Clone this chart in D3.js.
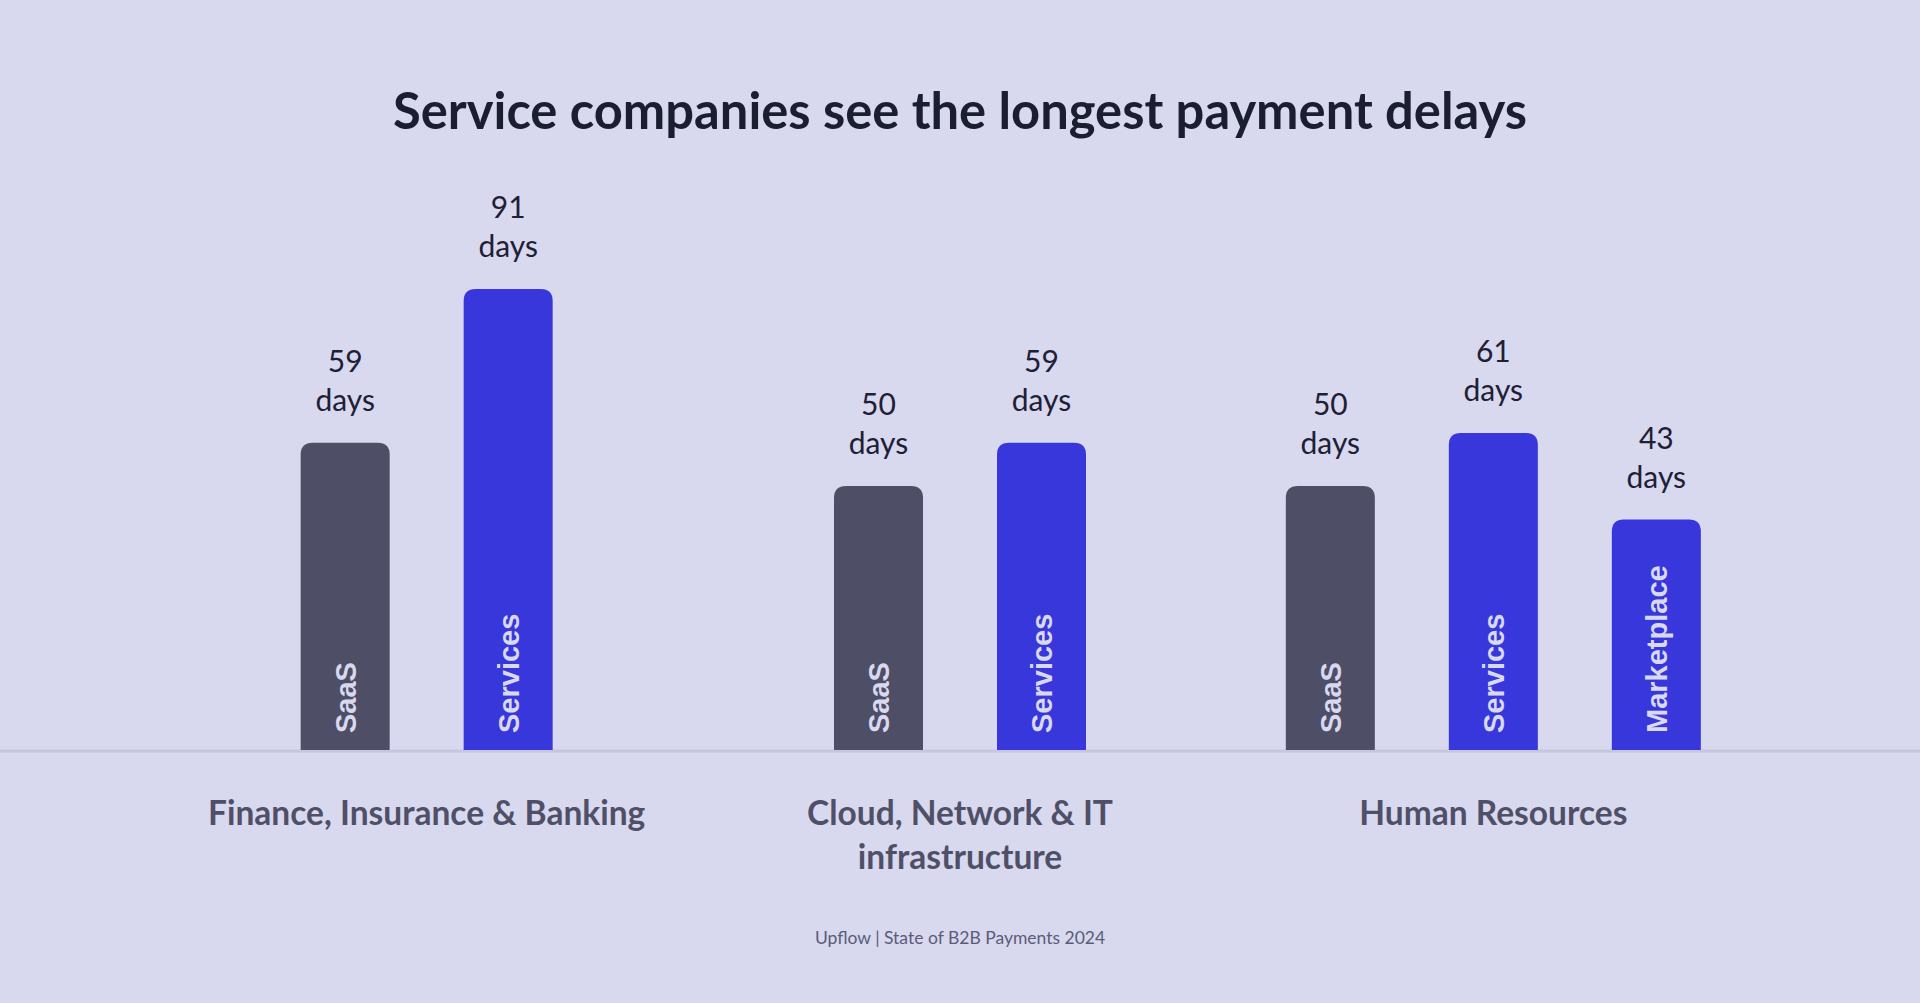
<!DOCTYPE html>
<html>
<head>
<meta charset="utf-8">
<script src="https://cdn.jsdelivr.net/npm/d3@7"></script>
<style>
  html, body { margin: 0; padding: 0; background: #d8d8ef; }
  svg { display: block; }
</style>
</head>
<body>
<div id="chart"></div>
<script>
// chart data
var categories = ["Finance, Insurance & Banking", "Cloud, Network & IT infrastructure", "Human Resources"];
var seriesNames = ["SaaS", "Services", "Marketplace"];
var saasDays = [59, 50, 50];
var servicesDays = [91, 59, 61];
var marketplaceDays = [null, null, 43];
var unitLabel = "days";
var titleText = "Service companies see the longest payment delays";
var sourceText = "Upflow | State of B2B Payments 2024";

var colors = { SaaS: "#4e4e66", Services: "#3737db", Marketplace: "#3737db" };

var svgWidth = 1920;
var svgHeight = 1003;
var baseline = 750;

var svg = d3.select("#chart")
  .append("svg")
  .attr("width", svgWidth)
  .attr("height", svgHeight);

svg.append("rect")
  .attr("width", svgWidth)
  .attr("height", svgHeight)
  .attr("fill", "#d8d8ef");

// rows per category, skipping missing series
var groups = categories.map(function (c, i) {
  var vals = [saasDays[i], servicesDays[i], marketplaceDays[i]];
  var bars = [];
  seriesNames.forEach(function (s, j) {
    if (vals[j] != null) bars.push({ series: s, value: vals[j], category: c });
  });
  return { category: c, bars: bars };
});

var allValues = saasDays.concat(servicesDays, marketplaceDays).filter(function (d) { return d != null; });

var x0 = d3.scaleBand()
  .domain(categories)
  .range([160, 1760]);

var step = 163;

var y = d3.scaleLinear()
  .domain([-5, d3.max(allValues)])
  .range([baseline, 289]);

function topRounded(x, y0, w, h, r) {
  return "M" + x + "," + (y0 + h) +
    "V" + (y0 + r) +
    "Q" + x + "," + y0 + " " + (x + r) + "," + y0 +
    "H" + (x + w - r) +
    "Q" + (x + w) + "," + y0 + " " + (x + w) + "," + (y0 + r) +
    "V" + (y0 + h) + "Z";
}

// title
svg.append("text")
  .attr("x", svgWidth / 2)
  .attr("y", 129)
  .attr("text-anchor", "middle")
  .attr("font-family", "Lato, sans-serif")
  .attr("font-weight", 700)
  .attr("font-size", 50.7)
  .attr("fill", "#1b1e31")
  .text(titleText);

// baseline
svg.append("line")
  .attr("x1", 0)
  .attr("x2", svgWidth)
  .attr("y1", baseline + 1)
  .attr("y2", baseline + 1)
  .attr("stroke", "#c6c6e0")
  .attr("stroke-width", 3);

var groupSel = svg.selectAll(".group")
  .data(groups)
  .enter()
  .append("g")
  .attr("class", "group")
  .attr("transform", function (d) { return "translate(" + (x0(d.category) + x0.bandwidth() / 2) + ",0)"; });

groupSel.each(function (g) {
  var n = g.bars.length;
  var x1 = d3.scaleBand()
    .domain(g.bars.map(function (b) { return b.series; }))
    .range([-n * step / 2, n * step / 2])
    .paddingInner(0.454)
    .paddingOuter(0.227);

  var sel = d3.select(this);
  var w = x1.bandwidth();

  sel.selectAll("path")
    .data(g.bars)
    .enter()
    .append("path")
    .attr("d", function (b) {
      return topRounded(x1(b.series), y(b.value), w, baseline - y(b.value), 12);
    })
    .attr("fill", function (b) { return colors[b.series]; });

  // value labels
  var lab = sel.selectAll(".val")
    .data(g.bars)
    .enter()
    .append("text")
    .attr("class", "val")
    .attr("text-anchor", "middle")
    .attr("font-family", "Lato, sans-serif")
    .attr("font-size", 30)
    .attr("fill", "#1e2035");

  lab.append("tspan")
    .attr("x", function (b) { return x1(b.series) + w / 2; })
    .attr("y", function (b) { return y(b.value) - 71; })
    .text(function (b) { return b.value; });

  lab.append("tspan")
    .attr("x", function (b) { return x1(b.series) + w / 2; })
    .attr("y", function (b) { return y(b.value) - 32; })
    .text(unitLabel);

  // series names inside bars
  sel.selectAll(".inner")
    .data(g.bars)
    .enter()
    .append("text")
    .attr("class", "inner")
    .attr("transform", function (b) {
      return "translate(" + (x1(b.series) + w / 2) + "," + (baseline - 17) + ") rotate(-90)";
    })
    .attr("dy", "0.36em")
    .attr("font-family", "Liberation Sans, Arial, sans-serif")
    .attr("font-weight", 700)
    .attr("font-size", 29)
    .attr("fill", "#d8d8ef")
    .text(function (b) { return b.series; });
});

// category labels, wrapped
function wrap(textSel, maxWidth) {
  textSel.each(function () {
    var text = d3.select(this);
    var words = text.text().split(/\s+/);
    var xPos = text.attr("x");
    var yPos = +text.attr("y");
    text.text(null);
    var line = [];
    var lineNo = 0;
    var tspan = text.append("tspan").attr("x", xPos).attr("y", yPos);
    words.forEach(function (word) {
      line.push(word);
      tspan.text(line.join(" "));
      if (tspan.node().getComputedTextLength() > maxWidth && line.length > 1) {
        line.pop();
        tspan.text(line.join(" "));
        line = [word];
        lineNo++;
        tspan = text.append("tspan").attr("x", xPos).attr("y", yPos + lineNo * 44).text(word);
      }
    });
  });
}

svg.selectAll(".cat")
  .data(categories)
  .enter()
  .append("text")
  .attr("class", "cat")
  .attr("x", function (d) { return x0(d) + x0.bandwidth() / 2; })
  .attr("y", 825)
  .attr("text-anchor", "middle")
  .attr("font-family", "Lato, sans-serif")
  .attr("font-weight", 700)
  .attr("font-size", 33.5)
  .attr("fill", "#4f5068")
  .text(function (d) { return d; })
  .call(wrap, 480);

// source
svg.append("text")
  .attr("x", svgWidth / 2)
  .attr("y", 944)
  .attr("text-anchor", "middle")
  .attr("font-family", "Lato, sans-serif")
  .attr("font-size", 17.5)
  .attr("fill", "#5a5c78")
  .text(sourceText);
</script>
</body>
</html>
